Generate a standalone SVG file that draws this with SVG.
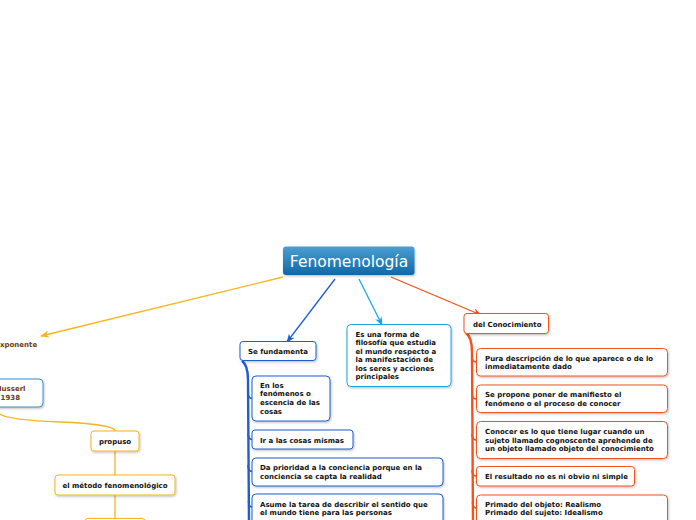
<svg xmlns="http://www.w3.org/2000/svg" width="696" height="520" viewBox="0 0 696 520">
<defs>
<linearGradient id="cg" x1="0" y1="0" x2="0" y2="1">
<stop offset="0" stop-color="#4a9fd2"/>
<stop offset="1" stop-color="#0f68a6"/>
</linearGradient>
<filter id="sh" x="-10%" y="-10%" width="130%" height="140%">
<feDropShadow dx="0.8" dy="1.2" stdDeviation="0.8" flood-color="#000" flood-opacity="0.25"/>
</filter>
<marker id="aY" viewBox="0 0 10 10" refX="9" refY="5" markerWidth="9" markerHeight="9" markerUnits="userSpaceOnUse" orient="auto"><path d="M0,1 L10,5 L0,9 L3,5 Z" fill="#f9b41c"/></marker>
<marker id="aB" viewBox="0 0 10 10" refX="9" refY="5" markerWidth="9" markerHeight="9" markerUnits="userSpaceOnUse" orient="auto"><path d="M0,1 L10,5 L0,9 L3,5 Z" fill="#1d5fd1"/></marker>
<marker id="aL" viewBox="0 0 10 10" refX="9" refY="5" markerWidth="9" markerHeight="9" markerUnits="userSpaceOnUse" orient="auto"><path d="M0,1 L10,5 L0,9 L3,5 Z" fill="#1aa3e8"/></marker>
<marker id="aO" viewBox="0 0 10 10" refX="9" refY="5" markerWidth="9" markerHeight="9" markerUnits="userSpaceOnUse" orient="auto"><path d="M0,1 L10,5 L0,9 L3,5 Z" fill="#f4511e"/></marker>
</defs>
<style>
.box{fill:#fff;stroke-width:1;filter:url(#sh)}
.y{stroke:#f9b41c}
.b{stroke:#1d5fd1}
.l{stroke:#1aa3e8}
.o{stroke:#f4511e}
.hb{stroke:#3a8cc4}
.t{font-family:"DejaVu Sans",Verdana,sans-serif;font-weight:bold;font-size:7px;fill:#111}
.br{fill:#6b3a10}
.c{fill:none;stroke-width:1.3}
.tr{fill:none;stroke-width:1.6}
.tk{fill:none;stroke-width:2.4}
</style>

<g id="connectors">
<path class="c y" d="M283,277 L41,336" marker-end="url(#aY)"/>
<path class="c b" d="M335,279 L287,342" marker-end="url(#aB)"/>
<path class="c l" d="M359,279 L382,325" marker-end="url(#aL)"/>
<path class="c o" d="M391,277 L481,315" marker-end="url(#aO)"/>
<path class="c y" d="M0,414 Q8,420 60,422 Q112,424 116,431"/>
<path class="c y" d="M115,451 L115,475"/>
<path class="c y" d="M115,495 L115,519"/>
<path class="tk b" d="M242,361 Q248,365 248,380 L249,525"/>
<path class="tr b" d="M248,392 Q248,398.5 252,398.5"/>
<path class="tr b" d="M248,433 Q248,439.5 252,439.5"/>
<path class="tr b" d="M248,465 Q248,471.5 252,471.5"/>
<path class="tr b" d="M248.5,501 Q248.5,507 252,507"/>
<path class="tk o" d="M466,333 Q472,337 472,352 L473,525"/>
<path class="tr o" d="M472,356 Q472,362 476,362"/>
<path class="tr o" d="M472,393 Q472,399 476,399"/>
<path class="tr o" d="M472,434 Q472,440 476,440"/>
<path class="tr o" d="M472,470 Q472,476 476,476"/>
<path class="tr o" d="M472.5,502 Q472.5,508 476,508"/>
</g>

<g id="n-central">
<rect x="283" y="246.5" width="131.5" height="28.5" rx="3" fill="url(#cg)" filter="url(#sh)"/>
<text x="349" y="267" text-anchor="middle" font-family="'DejaVu Sans',Verdana,sans-serif" font-size="15.5" fill="#fff">Fenomenología</text>
</g>

<g id="n-exponente">
<text class="t br" x="0" y="347">xponente</text>
</g>

<g id="n-husserl">
<rect class="box hb" x="-20" y="379" width="63" height="28" rx="4"/>
<text class="t br" x="25.5" y="391" text-anchor="end">Husserl</text>
<text class="t br" x="20" y="400" text-anchor="end">1938</text>
</g>

<g id="n-propuso">
<rect class="box y" x="91" y="431" width="48" height="20" rx="3"/>
<text class="t" x="115" y="443.5" text-anchor="middle">propuso</text>
</g>

<g id="n-metodo">
<rect class="box y" x="55" y="475" width="120" height="20" rx="3"/>
<text class="t" x="115" y="487.5" text-anchor="middle">el método fenomenológico</text>
</g>

<g id="n-metodo-child">
<rect class="box y" x="85" y="518.5" width="60" height="20" rx="3"/>
</g>

<g id="n-sefundamenta">
<rect class="box b" x="240" y="341.5" width="76" height="19" rx="3"/>
<text class="t" x="248" y="353.5">Se fundamenta</text>
</g>

<g id="n-esunaforma">
<rect class="box l" x="347" y="324.5" width="104" height="62" rx="4"/>
<text class="t" x="355.5" y="337">Es una forma de</text>
<text class="t" x="355.5" y="345.4">filosofía que estudia</text>
<text class="t" x="355.5" y="353.8">el mundo respecto a</text>
<text class="t" x="355.5" y="362.2">la manifestación de</text>
<text class="t" x="355.5" y="370.6">los seres y acciones</text>
<text class="t" x="355.5" y="379">principales</text>
</g>

<g id="n-enlos">
<rect class="box b" x="252" y="376" width="78" height="45" rx="4"/>
<text class="t" x="260" y="387.5">En los</text>
<text class="t" x="260" y="396.4">fenómenos o</text>
<text class="t" x="260" y="405.3">escencia de las</text>
<text class="t" x="260" y="414.2">cosas</text>
</g>

<g id="n-ir">
<rect class="box b" x="252" y="430" width="101" height="19" rx="3"/>
<text class="t" x="260" y="442.5">Ir a las cosas mismas</text>
</g>

<g id="n-da">
<rect class="box b" x="252" y="458" width="191" height="28" rx="4"/>
<text class="t" x="260" y="470">Da prioridad a la conciencia porque en la</text>
<text class="t" x="260" y="478.5">conciencia se capta la realidad</text>
</g>

<g id="n-asume">
<rect class="box b" x="252" y="494" width="191" height="40" rx="4"/>
<text class="t" x="260" y="506.5">Asume la tarea de describir el sentido que</text>
<text class="t" x="260" y="515">el mundo tiene para las personas</text>
</g>

<g id="n-conocimiento">
<rect class="box o" x="464" y="313.5" width="84.5" height="20" rx="3"/>
<text class="t" x="473" y="326.5">del Conocimiento</text>
</g>

<g id="n-pura">
<rect class="box o" x="476.5" y="348.5" width="191" height="27.5" rx="4"/>
<text class="t" x="485" y="360.8">Pura descripción de lo que aparece o de lo</text>
<text class="t" x="485" y="369.2">inmediatamente dado</text>
</g>

<g id="n-sepropone">
<rect class="box o" x="476.5" y="385" width="191" height="27.5" rx="4"/>
<text class="t" x="485" y="397">Se propone poner de manifiesto el</text>
<text class="t" x="485" y="405.8">fenómeno o el proceso de conocer</text>
</g>

<g id="n-conocer">
<rect class="box o" x="476.5" y="421.5" width="191" height="37" rx="4"/>
<text class="t" x="485" y="434.2">Conocer es lo que tiene lugar cuando un</text>
<text class="t" x="485" y="442.5">sujeto llamado cognoscente aprehende de</text>
<text class="t" x="485" y="450.8">un objeto llamado objeto del conocimiento</text>
</g>

<g id="n-resultado">
<rect class="box o" x="476.5" y="466.5" width="158" height="19.5" rx="3"/>
<text class="t" x="485" y="479.2">El resultado no es ni obvio ni simple</text>
</g>

<g id="n-primado">
<rect class="box o" x="476.5" y="495" width="191" height="40" rx="4"/>
<text class="t" x="485" y="506.8">Primado del objeto: Realismo</text>
<text class="t" x="485" y="514.8">Primado del sujeto: Idealismo</text>
</g>
</svg>
